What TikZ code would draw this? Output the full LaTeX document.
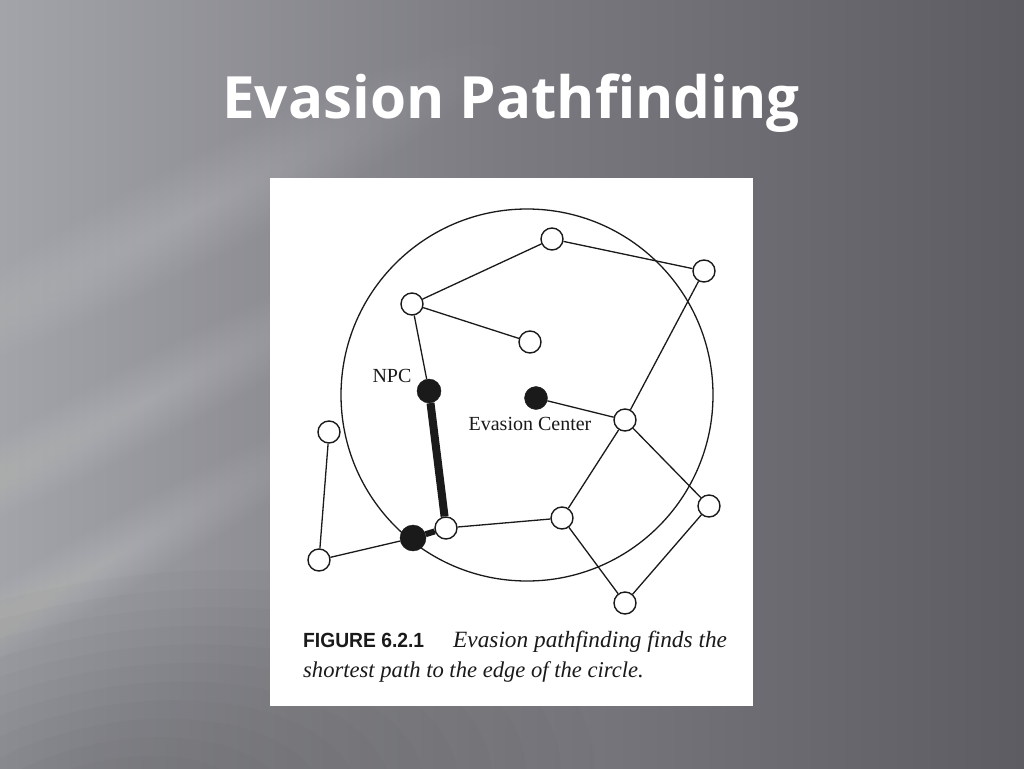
\documentclass[tikz,border=0pt]{standalone}
\usepackage{fontspec}
\setmainfont{Liberation Serif}
\newfontfamily\titlefont{Open Sans}
\newfontfamily\capsans{Liberation Sans}
\definecolor{bgL}{HTML}{A3A4AA}
\definecolor{bgM}{HTML}{7A7A80}
\definecolor{bgR}{HTML}{5C5C62}
\definecolor{ink}{HTML}{1A1A1A}
\tikzset{
  opennode/.style={circle, draw=ink, line width=1.4pt, fill=white, minimum size=22pt, inner sep=0pt},
  fillnode/.style={circle, draw=ink, fill=ink, minimum size=23pt, inner sep=0pt},
  edge/.style={draw=ink, line width=1.3pt},
  thickedge/.style={draw=ink, line width=8pt},
  medge/.style={draw=ink, line width=6pt},
  lbl/.style={font=\fontsize{20}{22}\selectfont, text=ink, inner sep=0pt},
}
% soft band: #1 centre, #2 angle, #3 x radius, #4 y radius, #5 colour, #6 opacity per layer
\newcommand{\softband}[6]{%
  \foreach \s in {1,...,14}{%
    \fill[#5, opacity=#6, rotate around={#2:#1}] #1 ellipse [x radius=#3*\s/14, y radius=#4*\s/14];
  }}
\begin{document}
\begin{tikzpicture}[x=1pt,y=-1pt]
\useasboundingbox (0,0) rectangle (1024,768);
% background
\shade[left color=bgL, right color=bgR, middle color=bgM] (0,0) rectangle (1024,768);
\softband{(200,210)}{28}{340}{50}{white}{0.012}
\softband{(150,400)}{28}{330}{40}{white}{0.012}
\softband{(110,560)}{30}{300}{36}{white}{0.012}
\softband{(120,830)}{10}{480}{250}{black}{0.014}
% title
\node[anchor=base, text=white, inner sep=0pt, font=\titlefont\bfseries\fontsize{58.3}{64}\selectfont] (title) at (511,118) {Evasion Pathfinding};
% figure panel
\fill[white] (270,178) rectangle (753,706);
% big circle
\node[circle, draw=ink, line width=1.3pt, minimum size=372pt, inner sep=0pt] (ring) at (527,395) {};
% nodes
\node[opennode] (A) at (552,239) {};
\node[opennode] (B) at (704,271) {};
\node[opennode] (C) at (412,304) {};
\node[opennode] (D) at (530,342) {};
\node[fillnode, minimum size=24pt] (npc) at (429,391) {};
\node[fillnode, minimum size=23pt] (ec) at (536,398) {};
\node[opennode] (E) at (625,420) {};
\node[opennode] (F) at (329,432) {};
\node[opennode] (G) at (446,528) {};
\node[fillnode, minimum size=26pt] (H) at (413,538) {};
\node[opennode] (I) at (319,560) {};
\node[opennode] (J) at (562,518) {};
\node[opennode] (K) at (709,506) {};
\node[opennode] (L) at (625,603) {};
% edges
\path[edge] (C) -- (A);
\path[edge] (A) -- (B);
\path[edge] (B) -- (E);
\path[edge] (C) -- (D);
\path[edge] (C) -- (npc);
\path[edge] (ec) -- (E);
\path[edge] (E) -- (J);
\path[edge] (E) -- (K);
\path[edge] (K) -- (L);
\path[edge] (J) -- (L);
\path[edge] (J) -- (G);
\path[edge] (H) -- (I);
\path[edge] (I) -- (F);
\path[thickedge] (npc) -- (G);
\path[medge] (H) -- (G);
% labels
\node[lbl, anchor=base] (npclbl) at (392,382) {NPC};
\node[lbl, anchor=base] (eclbl) at (530,430) {Evasion Center};
% caption
\node[anchor=base west, inner sep=0pt, text=ink] (figlbl) at (303,647) {\capsans\bfseries\fontsize{20.5}{22}\selectfont\scalebox{0.94}[1]{FIGURE 6.2.1}};
\node[anchor=base west, inner sep=0pt, text=ink, font=\itshape\fontsize{23.3}{26}\selectfont] (cap1) at (453,647) {Evasion pathfinding finds the};
\node[anchor=base west, inner sep=0pt, text=ink, font=\itshape\fontsize{22.6}{26}\selectfont] (cap2) at (303,677) {shortest path to the edge of the circle.};
\end{tikzpicture}
\end{document}
